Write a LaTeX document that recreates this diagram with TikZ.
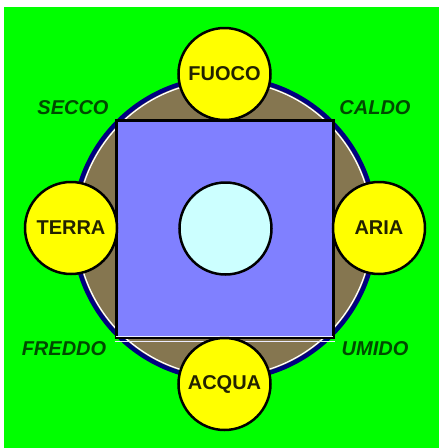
\documentclass[tikz,border=0pt]{standalone}
\usepackage{fontspec}
\setmainfont{Liberation Sans}
\definecolor{bggreen}{HTML}{00FF00}
\definecolor{ringnavy}{HTML}{000080}
\definecolor{olive}{HTML}{857650}
\definecolor{sqblue}{HTML}{8080FF}
\definecolor{lightcyan}{HTML}{CCFFFF}
\definecolor{elyellow}{HTML}{FFFF00}
\definecolor{labgreen}{HTML}{004A00}
\definecolor{eltext}{HTML}{222200}
\begin{document}
\begin{tikzpicture}[x=1pt,y=-1pt,
  element/.style={circle,draw=black,line width=2.5pt,fill=elyellow,minimum size=92pt,inner sep=0pt,
    font=\fontsize{20}{20}\selectfont\bfseries,text=eltext},
  quality/.style={font=\fontsize{20}{20}\selectfont\bfseries\itshape,text=labgreen,inner sep=0pt}]
\useasboundingbox (0,0) rectangle (439,448);
\fill[white] (0,0) rectangle (439,448);
\fill[bggreen] (4,7) rectangle (439,448);
% ring
\coordinate (c) at (224.5,228.5);
\fill[olive] (c) circle[radius=151];
\draw[ringnavy,line width=4.5pt] (c) circle[radius=151];
\draw[white,line width=1.3pt] (c) circle[radius=147.6];
% square
\node[draw=black,line width=3pt,fill=sqblue,minimum size=217pt,inner sep=0pt] (sq) at (c) {};
\draw[white!85!sqblue,line width=0.8pt] ([shift={(0,2.6)}]sq.south west) -- ([shift={(0,2.6)}]sq.south east);
\draw[white!85!sqblue,line width=0.8pt] ([shift={(1.6,-2.6)}]sq.south west) -- ([shift={(-1.6,-2.6)}]sq.south east);
% centre circle
\node[circle,draw=black,line width=2.5pt,fill=lightcyan,minimum size=92pt,inner sep=0pt] (core) at (225.5,228.5) {};
% elements
\node[element] (fuoco) at (224.5,74) {FUOCO};
\node[element] (terra) at (71,228) {TERRA};
\node[element] (aria) at (379,228) {ARIA};
\node[element] (acqua) at (224.5,384) {ACQUA};
% qualities
\node[quality] (secco) at (73,108) {SECCO};
\node[quality] (caldo) at (375,108) {CALDO};
\node[quality] (freddo) at (64,349) {FREDDO};
\node[quality] (umido) at (375,349) {UMIDO};
\end{tikzpicture}
\end{document}
